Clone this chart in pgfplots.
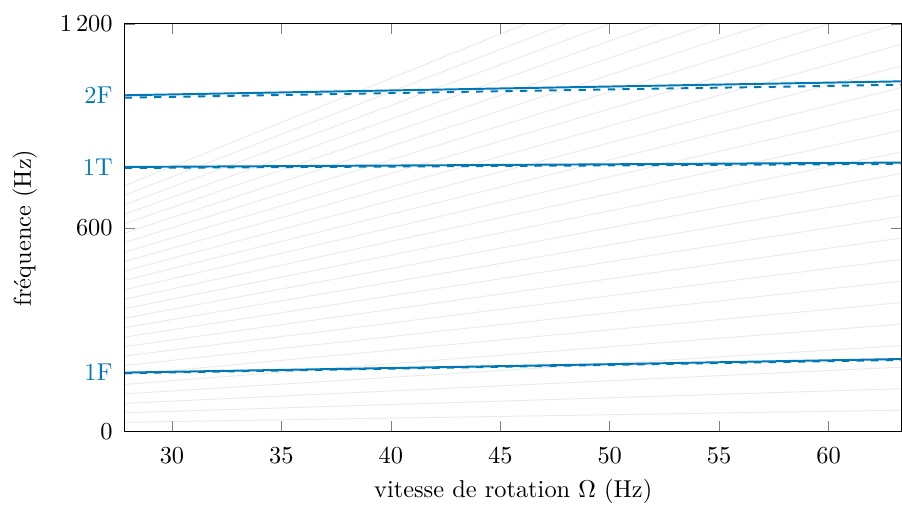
\documentclass[border=0pt]{standalone}
\usepackage{pgfplots}
\pgfplotsset{compat=1.18}
\definecolor{cblue}{RGB}{0,120,182}
\begin{document}
\begin{tikzpicture}
\begin{axis}[
  scale only axis,
  width=318.4pt, height=167.2pt,
  xmin=27.85, xmax=63.33,
  ymin=0, ymax=1200,
  xtick={30,35,40,45,50,55,60},
  ytick={0,600,1200},
  tick align=inside,
  axis on top,
  major tick style={black!50},
  yticklabel style={xshift=-1.5pt},
  xticklabel style={yshift=-3pt},
  ylabel shift=2.5pt,
  xlabel shift=-0.5pt,
  /pgf/number format/1000 sep={\,},
  extra y ticks={174,779,990},
  extra y tick labels={1F,1T,2F},
  extra y tick style={
    tick pos=left,
    major tick style={cblue},
    tick label style={text=cblue},
  },
  xlabel={vitesse de rotation $\Omega$ (Hz)},
  ylabel={fréquence (Hz)},
  clip=true,
]
\addplot[black!8, line width=0.4pt] coordinates {(0,0) (100,100)};
\addplot[black!8, line width=0.4pt] coordinates {(0,0) (100,200)};
\addplot[black!8, line width=0.4pt] coordinates {(0,0) (100,300)};
\addplot[black!8, line width=0.4pt] coordinates {(0,0) (100,400)};
\addplot[black!8, line width=0.4pt] coordinates {(0,0) (100,500)};
\addplot[black!8, line width=0.4pt] coordinates {(0,0) (100,600)};
\addplot[black!8, line width=0.4pt] coordinates {(0,0) (100,700)};
\addplot[black!8, line width=0.4pt] coordinates {(0,0) (100,800)};
\addplot[black!8, line width=0.4pt] coordinates {(0,0) (100,900)};
\addplot[black!8, line width=0.4pt] coordinates {(0,0) (100,1000)};
\addplot[black!8, line width=0.4pt] coordinates {(0,0) (100,1100)};
\addplot[black!8, line width=0.4pt] coordinates {(0,0) (100,1200)};
\addplot[black!8, line width=0.4pt] coordinates {(0,0) (100,1300)};
\addplot[black!8, line width=0.4pt] coordinates {(0,0) (100,1400)};
\addplot[black!8, line width=0.4pt] coordinates {(0,0) (100,1500)};
\addplot[black!8, line width=0.4pt] coordinates {(0,0) (100,1600)};
\addplot[black!8, line width=0.4pt] coordinates {(0,0) (100,1700)};
\addplot[black!8, line width=0.4pt] coordinates {(0,0) (100,1800)};
\addplot[black!8, line width=0.4pt] coordinates {(0,0) (100,1900)};
\addplot[black!8, line width=0.4pt] coordinates {(0,0) (100,2000)};
\addplot[black!8, line width=0.4pt] coordinates {(0,0) (100,2100)};
\addplot[black!8, line width=0.4pt] coordinates {(0,0) (100,2200)};
\addplot[black!8, line width=0.4pt] coordinates {(0,0) (100,2300)};
\addplot[black!8, line width=0.4pt] coordinates {(0,0) (100,2400)};
\addplot[black!8, line width=0.4pt] coordinates {(0,0) (100,2500)};
\addplot[black!8, line width=0.4pt] coordinates {(0,0) (100,2600)};
% 1F
\addplot[cblue, line width=0.8pt] coordinates {(27.85,174) (45,193) (63.33,214)};
\addplot[cblue, line width=0.8pt, dashed] coordinates {(27.85,172) (45,191) (63.33,211)};
% 1T
\addplot[cblue, line width=0.8pt] coordinates {(27.85,779) (45,785) (63.33,792)};
\addplot[cblue, line width=0.8pt, dashed] coordinates {(27.85,776) (45,782) (63.33,788)};
% 2F
\addplot[cblue, line width=0.8pt] coordinates {(27.85,990) (45,1010) (63.33,1031)};
\addplot[cblue, line width=0.8pt, dashed] coordinates {(27.85,983) (45,1002) (63.33,1021)};
\end{axis}
\path ([xshift=-51.2pt,yshift=-29.5pt]current axis.south west) rectangle ([yshift=9.8pt]current axis.north east);
\end{tikzpicture}
\end{document}
